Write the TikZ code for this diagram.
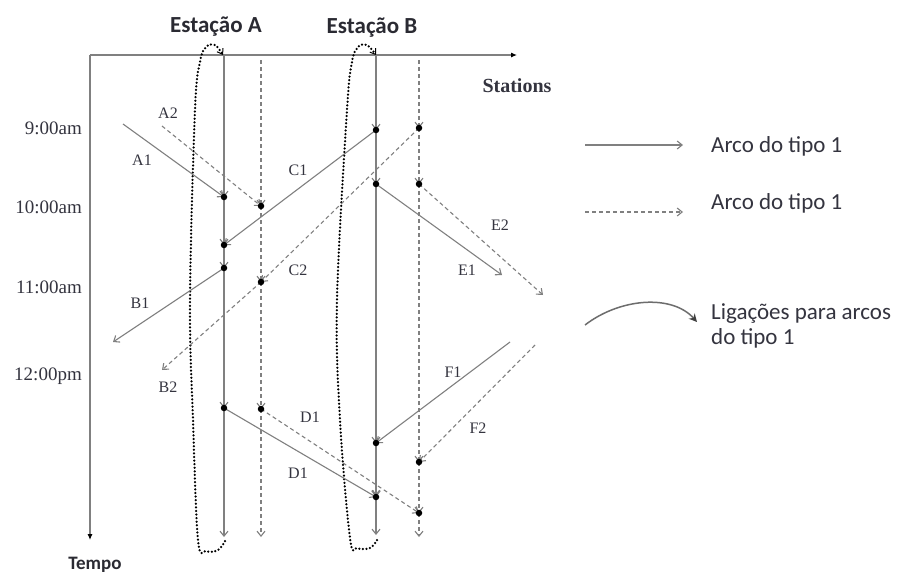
\documentclass[tikz,border=0pt]{standalone}
\usepackage{fontspec}
\setmainfont{Liberation Serif}
\newfontfamily\calib{Carlito}
\usetikzlibrary{arrows.meta}
\definecolor{ln}{HTML}{808080}
\definecolor{lbl}{HTML}{34343F}
\tikzset{
  arcsolid/.style={draw=ln, line width=1.1pt, -{Straight Barb[length=5pt,width=8pt]}},
  arcdash/.style={draw=ln, line width=1.1pt, dash pattern=on 4pt off 3pt, -{Straight Barb[length=5pt,width=8pt]}},
  dotn/.style={circle, fill=black, inner sep=0pt, minimum size=6.5pt},
  lab/.style={text=lbl, font=\fontsize{16}{16}\selectfont, inner sep=0pt},
  tlab/.style={text=lbl, font=\fontsize{19}{19}\selectfont, inner sep=0pt, anchor=east},
  head/.style={text=lbl!80!black, font=\calib\bfseries\fontsize{23}{23}\selectfont, inner sep=0pt},
  leg/.style={text=lbl, font=\calib\fontsize{23}{25}\selectfont, inner sep=0pt, anchor=west, align=left},
  loopst/.style={draw=black, line width=2.5pt, dash pattern=on 0pt off 3.6pt, line cap=round},
  axis/.style={draw=ln, line width=1.1pt, -{Latex[length=6pt,width=5pt,color=black]}}
}
\begin{document}
\begin{tikzpicture}[x=1pt,y=-1pt]
\useasboundingbox[fill=white] (0,0) rectangle (901,579);

% axes
\coordinate (O) at (90,55);
\coordinate (xend) at (517,55);
\coordinate (yend) at (90,540);
\draw[axis] (O) -- (xend);
\draw[axis] (O) -- (yend);
\node[tlab, anchor=center, font=\bfseries\fontsize{20}{20}\selectfont] (stations) at (517,86) {Stations};
\node[head, font=\calib\bfseries\fontsize{19}{19}\selectfont] (tempo) at (95,565) {Tempo};
\node[head] (estA) at (216,27) {Estação A};
\node[head] (estB) at (372,28) {Estação B};

% time labels
\node[tlab] (t9) at (82,128) {9:00am};
\node[tlab] (t10) at (82,207) {10:00am};
\node[tlab] (t11) at (82,287) {11:00am};
\node[tlab] (t12) at (82,376) {12:00pm};

% station coordinates
\coordinate (a0) at (224,55);
\coordinate (a5) at (224,537);
\coordinate (ad0) at (261,60);
\coordinate (ad4) at (261,537);
\coordinate (b0) at (376,55);
\coordinate (b5) at (376,535);
\coordinate (bd0) at (419,60);
\coordinate (bd5) at (419,537);

\coordinate (a1) at (224,197);
\coordinate (a2) at (224,245);
\coordinate (a3) at (224,268);
\coordinate (a4) at (224,408);
\coordinate (ad1) at (261,206);
\coordinate (ad2) at (261,282);
\coordinate (ad3) at (261,409);
\coordinate (b1) at (376,130);
\coordinate (b2) at (376,184);
\coordinate (b3) at (376,443);
\coordinate (b4) at (376,497);
\coordinate (bd1) at (419,128);
\coordinate (bd2) at (419,184);
\coordinate (bd3) at (419,462);
\coordinate (bd4) at (419,513);

% dotted loops
\draw[loopst, -{Straight Barb[length=5pt,width=7pt,line width=1pt,color=black]}] plot[smooth, tension=0.6] coordinates {(225,541) (218,550) (206,551) (198,540) (193,420) (190,300) (195,110) (200,62) (206,47) (215,45) (223,55)};
\draw[loopst, -{Straight Barb[length=5pt,width=7pt,line width=1pt,color=black]}] plot[smooth, tension=0.6] coordinates {(377,540) (370,548) (357,548) (350,538) (340,420) (337,300) (347,110) (352,62) (358,47) (367,45) (376,55)};

% station A solid
\draw[arcsolid] (a0) -- (a1);
\draw[arcsolid] (a1) -- (a2);
\draw[arcsolid] (a2) -- (a3);
\draw[arcsolid] (a3) -- (a4);
\draw[arcsolid] (a4) -- (a5);
% station A dashed
\draw[arcdash] (ad0) -- (ad1);
\draw[arcdash] (ad1) -- (ad2);
\draw[arcdash] (ad2) -- (ad3);
\draw[arcdash] (ad3) -- (ad4);
% station B solid
\draw[arcsolid] (b0) -- (b1);
\draw[arcsolid] (b1) -- (b2);
\draw[arcsolid] (b2) -- (b3);
\draw[arcsolid, line width=2pt] (b3) -- (b4);
\draw[arcsolid] (b4) -- (b5);
% station B dashed
\draw[arcdash] (bd0) -- (bd1);
\draw[arcdash] (bd1) -- (bd2);
\draw[arcdash] (bd2) -- (bd3);
\draw[arcdash] (bd3) -- (bd4);
\draw[arcdash] (bd4) -- (bd5);

% free ends
\coordinate (A1s) at (123,124);
\coordinate (A2s) at (162,126);
\coordinate (B1e) at (113,342);
\coordinate (B2e) at (162,370);
\coordinate (E1e) at (502,275);
\coordinate (E2e) at (543,295);
\coordinate (F1s) at (510,342);
\coordinate (F2s) at (535,345);

% trip arcs
\draw[arcsolid] (A1s) -- (a1);
\draw[arcdash] (A2s) -- (ad1);
\draw[arcsolid] (b1) -- (a2);
\draw[arcdash] (bd1) -- (ad2);
\draw[arcsolid] (a3) -- (B1e);
\draw[arcdash] (ad2) -- (B2e);
\draw[arcsolid] (a4) -- (b4);
\draw[arcdash] (ad3) -- (bd4);
\draw[arcsolid] (b2) -- (E1e);
\draw[arcdash] (bd2) -- (E2e);
\draw[arcsolid] (F1s) -- (b3);
\draw[arcdash] (F2s) -- (bd3);

% dots
\foreach \p in {a1,a2,a3,a4,ad1,ad2,ad3,b1,b2,b3,b4,bd1,bd2,bd3,bd4}
  \node[dotn] (d\p) at (\p) {};

% arc labels
\node[lab] (lA1) at (142,160) {A1};
\node[lab] (lA2) at (168,113) {A2};
\node[lab] (lC1) at (298,170) {C1};
\node[lab] (lC2) at (298,270) {C2};
\node[lab] (lB1) at (140,303) {B1};
\node[lab] (lB2) at (168,387) {B2};
\node[lab] (lD1a) at (310,417) {D1};
\node[lab] (lD1b) at (298,473) {D1};
\node[lab] (lE1) at (467,270) {E1};
\node[lab] (lE2) at (500,225) {E2};
\node[lab] (lF1) at (453,372) {F1};
\node[lab] (lF2) at (478,428) {F2};

% legend
\coordinate (l1s) at (585,145);
\coordinate (l1e) at (683,145);
\coordinate (l2s) at (585,212);
\coordinate (l2e) at (683,212);
\coordinate (l3s) at (585,325);
\coordinate (l3e) at (697,322);
\draw[arcsolid] (l1s) -- (l1e);
\draw[arcdash] (l2s) -- (l2e);
\draw[draw=ln!85!black, line width=1.5pt, -{Stealth[length=8pt,width=8pt,color=black!75]}] (l3s) .. controls (620,298) and (672,294) .. (l3e);
\node[leg] (leg1) at (711,146) {Arco do tipo 1};
\node[leg] (leg2) at (711,203) {Arco do tipo 1};
\node[leg] (leg3) at (711,326) {Ligações para arcos\\do tipo 1};
\end{tikzpicture}
\end{document}
